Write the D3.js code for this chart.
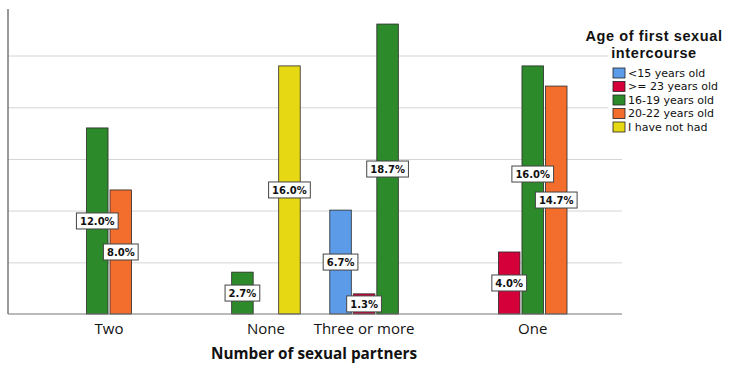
<!DOCTYPE html>
<html>
<head>
<meta charset="utf-8">
<script src="https://cdn.jsdelivr.net/npm/d3@7"></script>
<style>
  body { margin: 0; background: #fff; }
  svg { display: block; }
  .axis-x text { font-family: "Open Sans", sans-serif; font-size: 15px; fill: #111; }
  .grid line { stroke: #d4d4d4; }
  .grid .domain { display: none; }
  .val text { font-family: "DejaVu Sans", sans-serif; font-weight: bold; font-size: 10px; fill: #111; }
  .legend text { font-family: "DejaVu Sans", sans-serif; font-size: 11px; fill: #111; }
  .legend .ttl { font-family: "Liberation Sans", sans-serif; font-weight: bold; font-size: 14.5px; letter-spacing: 0.6px; }
  .xtitle { font-family: "Open Sans", sans-serif; font-weight: bold; font-size: 15.3px; fill: #111; }
</style>
</head>
<body>
<div id="chart"></div>
<script>
// percent of respondents, per partner group, in the order of partnerGroups
const partnerGroups = ['Two', 'None', 'Three or more', 'One'];
const ageGroups = ['<15 years old', '>= 23 years old', '16-19 years old', '20-22 years old', 'I have not had'];
const under15 = [null, null, 6.7, null];
const over23 = [null, null, 1.3, 4.0];
const age16to19 = [12.0, 2.7, 18.7, 16.0];
const age20to22 = [8.0, null, null, 14.7];
const notHad = [null, 16.0, null, null];
const gridTicks = [3.33, 6.67, 10, 13.33, 16.67];
const yMax = 19.67;

const seriesValues = [under15, over23, age16to19, age20to22, notHad];
const colors = ['#5b9be8', '#d5003a', '#2d8a2b', '#f36d2c', '#e6d812'];

const width = 730, height = 367;
const margin = {t:9, r:108, b:53, l:8};
const w = width - margin.l - margin.r;
const h = height - margin.t - margin.b;

const svg = d3.select('#chart').append('svg')
	.attr('width', width)
	.attr('height', height);

const plot = svg.append('g')
	.attr('transform', `translate(${margin.l},${margin.t})`);

const scaleX = d3.scaleBand().domain(partnerGroups).range([0, w])
	.paddingInner(0.19).paddingOuter(0.21);
const scaleSlot = d3.scaleBand().domain(ageGroups).range([0, scaleX.bandwidth()]);
const scaleY = d3.scaleLinear().domain([0, yMax]).range([h, 0]);

//flatten into bar records
const bars = [];
partnerGroups.forEach((g, i) => {
	ageGroups.forEach((a, j) => {
		const v = seriesValues[j][i];
		if (v != null) bars.push({group: g, age: a, value: v, color: colors[j]});
	});
});

//gridlines
plot.append('g')
	.attr('class', 'grid')
	.call(d3.axisLeft(scaleY).tickValues(gridTicks).tickSize(-w).tickFormat(''));

//bars
plot.selectAll('.bar')
	.data(bars)
	.enter()
	.append('rect')
	.attr('class', 'bar')
	.attr('x', d => scaleX(d.group) + scaleSlot(d.age) + 1)
	.attr('width', scaleSlot.bandwidth() - 2)
	.attr('y', d => scaleY(d.value))
	.attr('height', d => h - scaleY(d.value))
	.style('fill', d => d.color)
	.style('stroke', '#2a2a2a')
	.style('stroke-width', 0.8);

//axes lines
plot.append('line')
	.attr('x1', 0).attr('x2', 0).attr('y1', 0).attr('y2', h)
	.style('stroke', '#555').style('stroke-width', 1.2);
plot.append('line')
	.attr('x1', 0).attr('x2', w).attr('y1', h).attr('y2', h)
	.style('stroke', '#777').style('stroke-width', 1.2);

//x axis: labels sit under the drawn bars of each group
const axisX = d3.axisBottom(scaleX).tickSize(0).tickPadding(9);
const axisXNode = plot.append('g')
	.attr('class', 'axis axis-x')
	.attr('transform', `translate(0,${h})`)
	.call(axisX);
axisXNode.select('.domain').remove();
axisXNode.selectAll('.tick')
	.attr('transform', g => {
		const b = bars.filter(d => d.group === g);
		const x0 = d3.min(b, d => scaleX(d.group) + scaleSlot(d.age));
		const x1 = d3.max(b, d => scaleX(d.group) + scaleSlot(d.age) + scaleSlot.bandwidth());
		return `translate(${(x0 + x1) / 2},0)`;
	});

//value labels at bar middle, pushed apart when they collide
const boxH = 16;
const labels = bars.map(d => ({
	d: d,
	cx: scaleX(d.group) + scaleSlot(d.age) + scaleSlot.bandwidth() / 2,
	cy: (scaleY(d.value) + h) / 2,
	text: d3.format('.1f')(d.value) + '%'
}));
const valG = plot.append('g').attr('class', 'val');
const lab = valG.selectAll('g')
	.data(labels)
	.enter()
	.append('g');
const rect = lab.append('rect')
	.style('fill', '#fff')
	.style('stroke', '#444')
	.style('stroke-width', 1);
lab.append('text')
	.attr('text-anchor', 'middle')
	.attr('dy', '0.36em')
	.text(d => d.text);
lab.each(function(d){ d.bw = this.querySelector('text').getComputedTextLength() + 7; });
labels.forEach(a => {
	labels.forEach(b => {
		if (a === b || a.d.group !== b.d.group) return;
		const ox = Math.abs(a.cx - b.cx) < (a.bw + b.bw) / 2;
		const oy = Math.abs(a.cy - b.cy) < boxH + 2;
		if (ox && oy && a.d.value > b.d.value) a.cy = b.cy - boxH - 10;
	});
});
lab.attr('transform', d => `translate(${d.cx},${d.cy})`);
rect.attr('x', d => -d.bw / 2).attr('y', -boxH / 2)
	.attr('width', d => d.bw).attr('height', boxH);

//x title
svg.append('text')
	.attr('class', 'xtitle')
	.attr('x', 314)
	.attr('y', 359)
	.attr('text-anchor', 'middle')
	.text('Number of sexual partners');

//legend
const legend = svg.append('g').attr('class', 'legend');
legend.append('rect')
	.attr('x', 608).attr('y', 47).attr('width', 122).attr('height', 88)
	.style('fill', '#fff');
legend.append('text').attr('class', 'ttl')
	.attr('x', 654).attr('y', 41).attr('text-anchor', 'middle')
	.text('Age of first sexual');
legend.append('text').attr('class', 'ttl')
	.attr('x', 654).attr('y', 58).attr('text-anchor', 'middle')
	.text('intercourse');
const item = legend.selectAll('.item')
	.data(ageGroups)
	.enter()
	.append('g')
	.attr('class', 'item')
	.attr('transform', (d, i) => `translate(613,${73 + i * 13.5})`);
item.append('rect')
	.attr('x', 0).attr('y', -5).attr('width', 12).attr('height', 10)
	.style('fill', (d, i) => colors[i])
	.style('stroke', '#222').style('stroke-width', 0.8);
item.append('text')
	.attr('x', 15).attr('dy', '0.35em')
	.text(d => d);
</script>
</body>
</html>
